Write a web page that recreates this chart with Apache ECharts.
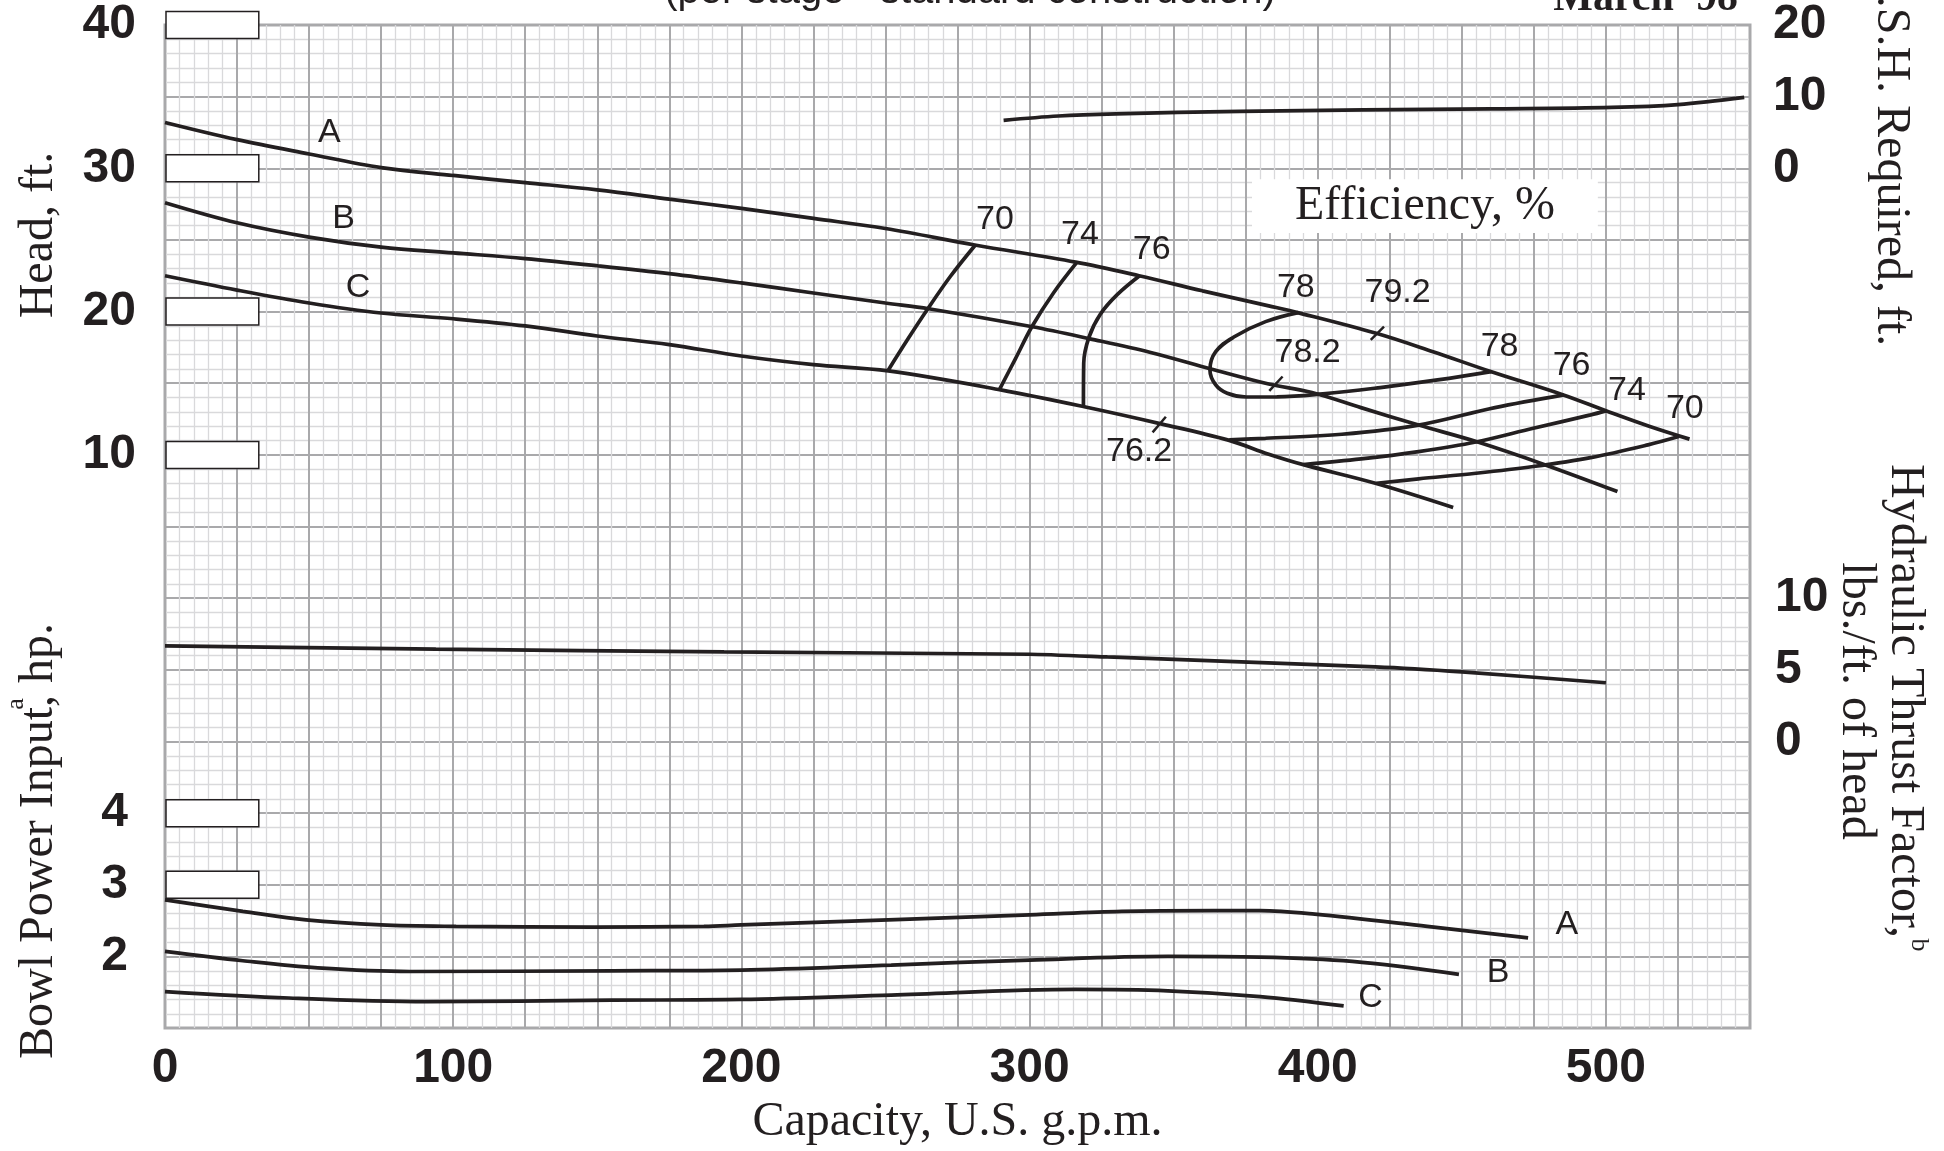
<!DOCTYPE html>
<html>
<head>
<meta charset="utf-8">
<script src="https://cdn.jsdelivr.net/npm/echarts/dist/echarts.min.js"></script>
<style>
html,body{margin:0;padding:0;background:#fff;}
#chart{width:1944px;height:1151px;}
</style>
</head>
<body>
<div id="chart"></div>
<script>
// ---------------- DATA ----------------
// Tick labels
const capacityTicks = [0, 100, 200, 300, 400, 500];
const headTicks = [40, 30, 20, 10];
const hpTicks = [4, 3, 2];
const npshTicks = [20, 10, 0];
const thrustTicks = [10, 5, 0];
const headBoxes = [40, 30, 20, 10];
const hpBoxes = [4, 3];

// Head-capacity curves [gpm, ft]
const headA = [[0,33.2],[25,32.0],[50,31.0],[75,30.05],[100,29.5],[125,29.0],[150,28.5],[175,27.85],[200,27.2],[225,26.5],[250,25.8],[281,24.65],[316,23.45],[338,22.5],[360,21.45],[383,20.4],[393,19.93],[420,18.5],[440,17.2],[460,15.82],[485,14.2],[500,13.08],[515,12.0],[529,11.1]];
const headB = [[0,27.6],[25,26.2],[50,25.2],[75,24.5],[100,24.1],[125,23.7],[150,23.2],[175,22.65],[200,22.0],[225,21.3],[250,20.6],[265,20.2],[301,18.94],[321,18.1],[342,17.15],[363,16.0],[383,14.95],[398,14.35],[415,13.3],[435,12.08],[455,10.93],[479,9.3],[504,7.44]];
const headC = [[0,22.5],[25,21.5],[50,20.6],[75,19.9],[100,19.5],[125,19.0],[150,18.3],[175,17.7],[200,16.9],[225,16.3],[251,15.86],[290,14.54],[319,13.36],[346,12.15],[369,11.03],[383,10.05],[395,9.32],[420,8.02],[447,6.33]];

// Iso-efficiency lines [gpm, ft]
const eff70L = [[281.2,24.65],[272.5,22.45],[264.7,20.2],[257.5,18.0],[250.8,15.86]];
const eff74L = [[316.4,23.43],[308.3,21.3],[300.8,18.94],[295.0,16.67],[289.5,14.54]];
const eff76L = [[338.3,22.52],[330.5,21.2],[324.5,19.8],[320.6,18.2],[318.8,16.4],[318.7,13.36]];
const eff78Loop = [[393.2,19.93],[381.9,19.3],[371.2,18.26],[364.6,17.2],[362.6,15.93],[364.6,14.88],[368.6,14.3],[375.2,14.04],[385.8,14.05],[401.8,14.26],[421.7,14.7],[441.6,15.23],[460.2,15.81]];
const eff76R = [[485.4,14.19],[461.5,13.3],[435,12.08],[408.4,11.44],[381.9,11.16],[369.3,11.05]];
const eff74R = [[500,13.07],[494.7,12.79],[474.8,11.86],[454.9,10.9],[435,10.23],[415.1,9.72],[395.1,9.33]];
const eff70R = [[525.3,11.28],[514.6,10.70],[494.7,9.81],[474.8,9.19],[454.9,8.72],[435,8.33],[420.4,8.02]];

// Efficiency point marks [gpm, ft]
const tick792 = [[418.4,18.02],[423.0,18.95]];
const tick782 = [[383.2,14.47],[387.8,15.47]];
const tick762 = [[342.7,11.57],[347.3,12.66]];

// N.P.S.H. required [gpm, ft of NPSH]
const npshReq = [[291,6.7],[310,7.3],[330,7.6],[373,7.95],[416,8.15],[460,8.3],[502,8.5],[525,8.9],[548,9.9]];

// Hydraulic thrust factor [gpm, lbs/ft of head]
const thrustFactor = [[0,6.67],[94,6.44],[194,6.25],[300,6.09],[327,5.9],[420,5.21],[450,4.86],[500,4.1]];

// Bowl power input [gpm, hp]
const powerA = [[0,2.79],[27,2.63],[49,2.51],[75,2.44],[101,2.42],[149,2.41],[187,2.42],[200,2.44],[251,2.51],[300,2.58],[332,2.63],[364,2.64],[380,2.64],[399,2.59],[438,2.42],[473,2.26]];
const powerB = [[0,2.07],[27,1.94],[53,1.84],[85,1.79],[155,1.80],[200,1.81],[252,1.88],[300,1.95],[348,2.0],[380,1.99],[412,1.93],[449,1.75]];
const powerC = [[0,1.51],[43,1.42],[91,1.37],[155,1.39],[200,1.40],[252,1.46],[316,1.54],[348,1.52],[380,1.44],[409,1.31]];

// Curve labels
const headLabels = [['A',57,32.5],['B',62,26.5],['C',67,21.7]];
const effLabels = [['70',288,26.4],['74',317.5,25.35],['76',342.4,24.3],['78',392.4,21.67],['79.2',427.7,21.35],['78.2',396.5,17.16],['76.2',338.0,10.25],['78',463.1,17.56],['76',488.1,16.26],['74',507.3,14.51],['70',527.4,13.21]];
const powerLabels = [['A',486.4,2.44],['B',462.6,1.77],['C',418.3,1.43]];

// ---------------- SCALE MAPPINGS onto the shared head axis ----------------
const hpToHead = p => p * 5 - 35;
const npshToHead = n => n / 2 + 30;
const thrustToHead = t => t - 10;

const INK = '#231f20';
const SANS = '"Liberation Sans", Arial, Helvetica, sans-serif';
const SERIF = '"Liberation Serif", "Times New Roman", Times, serif';

function line(data, extra) {
  return Object.assign({
    type: 'line', data: data, symbol: 'none', smooth: 0.35, silent: true,
    animation: false, clip: false, z: 5,
    lineStyle: { color: INK, width: 3.7 }
  }, extra || {});
}

const allLabels = []
  .concat(headLabels.map(l => ({ t: l[0], x: l[1], y: l[2] })))
  .concat(effLabels.map(l => ({ t: l[0], x: l[1], y: l[2] })))
  .concat(powerLabels.map(l => ({ t: l[0], x: l[1], y: hpToHead(l[2]) })));

const boxData = headBoxes.map(h => [0, h]).concat(hpBoxes.map(p => [0, hpToHead(p)]));

const chart = echarts.init(document.getElementById('chart'), null, { renderer: 'canvas' });

const baseY = {
  type: 'value', min: -30, max: 40, interval: 5,
  axisLine: { show: false }, axisTick: { show: false }, splitLine: { show: false }
};
const labelStyle = { fontFamily: SANS, fontWeight: 'bold', fontSize: 48, color: INK };
const centered = { align: 'center', verticalAlign: 'middle', textAlign: 'center', textVerticalAlign: 'middle' };

function gtext(x, y, rot, text, font, extra) {
  return { type: 'text', x: x, y: y, rotation: rot, silent: true,
           style: Object.assign({ text: text, font: font, fill: INK }, centered, extra || {}) };
}

const option = {
  animation: false,
  backgroundColor: '#ffffff',
  grid: { left: 165, right: 194, top: 25, bottom: 118, show: true, borderColor: '#a9a9ab', borderWidth: 3, backgroundColor: 'transparent' },
  xAxis: {
    type: 'value', min: 0, max: 550, interval: 25,
    axisLine: { show: false }, axisTick: { show: false },
    splitLine: { show: true, lineStyle: { color: '#a9a9ab', width: 2 } },
    minorTick: { show: false, splitNumber: 5 },
    minorSplitLine: { show: true, lineStyle: { color: '#d9d9db', width: 1.3 } },
    axisLabel: Object.assign({ margin: 17, formatter: v => capacityTicks.includes(v) ? String(v) : '' }, labelStyle),
    name: 'Capacity, U.S. g.p.m.', nameLocation: 'middle', nameGap: 67,
    nameTextStyle: { fontFamily: SERIF, fontSize: 48, color: INK }
  },
  yAxis: [
    Object.assign({}, baseY, {
      position: 'left',
      splitLine: { show: true, lineStyle: { color: '#a9a9ab', width: 2 } },
      minorTick: { show: false, splitNumber: 5 },
      minorSplitLine: { show: true, lineStyle: { color: '#d9d9db', width: 1.3 } },
      axisLabel: Object.assign({ margin: 29, formatter: v => headTicks.includes(v) ? String(v) : '' }, labelStyle)
    }),
    Object.assign({}, baseY, {
      position: 'left',
      axisLabel: Object.assign({ margin: 37, formatter: v => { const p = (v + 35) / 5; return hpTicks.includes(p) ? String(p) : ''; } }, labelStyle)
    }),
    Object.assign({}, baseY, {
      position: 'right',
      axisLabel: Object.assign({ margin: 23, formatter: v => { if (v < 30) return ''; const n = (v - 30) * 2; return npshTicks.includes(n) ? String(n) : ''; } }, labelStyle)
    }),
    Object.assign({}, baseY, {
      position: 'right',
      axisLabel: Object.assign({ margin: 25, formatter: v => { if (v > 0 || v < -10) return ''; const t = v + 10; return thrustTicks.includes(t) ? String(t) : ''; } }, labelStyle)
    })
  ],
  graphic: [
    gtext(39, 235, Math.PI / 2, 'Head, ft.', '48px ' + SERIF),
    gtext(39, 841, Math.PI / 2, 'Bowl Power Input, hp.', '48px ' + SERIF),
    gtext(16, 704, Math.PI / 2, 'a', '26px ' + SERIF),
    gtext(1891, 137, -Math.PI / 2, 'N.P.S.H. Required, ft.', '48px ' + SERIF),
    gtext(1905, 701, -Math.PI / 2, 'Hydraulic Thrust Factor,', '48px ' + SERIF),
    gtext(1919, 945, -Math.PI / 2, 'b', '26px ' + SERIF),
    gtext(1856, 701, -Math.PI / 2, 'lbs./ft. of head', '48px ' + SERIF),
    gtext(970, -8, 0, '(per stage - standard construction)', '40px ' + SANS),
    gtext(1738, -1, 0, "March '98", 'bold 42px ' + SERIF, { align: 'right', textAlign: 'right' })
  ],
  series: [
    // label boxes on the left axis
    {
      type: 'custom', silent: true, clip: false, z: 6, animation: false,
      data: boxData,
      renderItem: (params, api) => {
        const p = api.coord([api.value(0), api.value(1)]);
        const w = api.size([32.2, 0])[0];
        const h = 27;
        return { type: 'rect', shape: { x: p[0] + 1, y: p[1] - h / 2, width: w, height: h },
                 style: { fill: '#ffffff', stroke: INK, lineWidth: 1.5 } };
      }
    },
    // "Efficiency, %" caption box
    {
      type: 'custom', silent: true, clip: false, z: 4, animation: false,
      data: [[377.2, 29.24, 497.2, 25.49]],
      renderItem: (params, api) => {
        const a = api.coord([api.value(0), api.value(1)]);
        const b = api.coord([api.value(2), api.value(3)]);
        return { type: 'group', children: [
          { type: 'rect', shape: { x: a[0], y: a[1], width: b[0] - a[0], height: b[1] - a[1] }, style: { fill: '#ffffff' } },
          { type: 'text', x: (a[0] + b[0]) / 2, y: (a[1] + b[1]) / 2,
            style: Object.assign({ text: 'Efficiency, %', font: '48px ' + SERIF, fill: INK }, centered) }
        ] };
      }
    },
    line(headA), line(headB), line(headC),
    line(eff70L), line(eff74L), line(eff76L), line(eff78Loop, { smooth: 0.4 }),
    line(eff76R), line(eff74R), line(eff70R),
    line(tick792, { smooth: false, lineStyle: { color: INK, width: 2.5 } }),
    line(tick782, { smooth: false, lineStyle: { color: INK, width: 2.5 } }),
    line(tick762, { smooth: false, lineStyle: { color: INK, width: 2.5 } }),
    line(npshReq.map(d => [d[0], npshToHead(d[1])])),
    line(thrustFactor.map(d => [d[0], thrustToHead(d[1])]), { smooth: 0.2 }),
    line(powerA.map(d => [d[0], hpToHead(d[1])])),
    line(powerB.map(d => [d[0], hpToHead(d[1])])),
    line(powerC.map(d => [d[0], hpToHead(d[1])])),
    // curve labels
    {
      type: 'custom', silent: true, clip: false, z: 7, animation: false,
      data: allLabels.map(l => [l.x, l.y]),
      renderItem: (params, api) => {
        const it = allLabels[params.dataIndex];
        const p = api.coord([it.x, it.y]);
        return { type: 'text', x: p[0], y: p[1],
                 style: Object.assign({ text: it.t, font: '34px ' + SANS, fill: INK }, centered) };
      }
    }
  ]
};
chart.setOption(option);
</script>
</body>
</html>
